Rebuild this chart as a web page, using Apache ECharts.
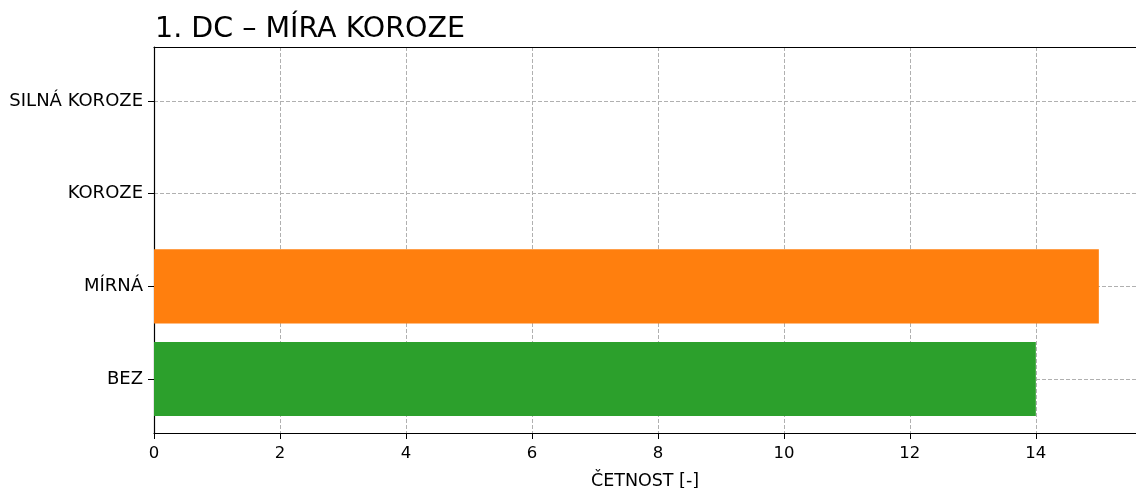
<!DOCTYPE html>
<html>
<head>
<meta charset="utf-8">
<script src="https://cdn.jsdelivr.net/npm/echarts@6/dist/echarts.min.js"></script>
<style>
  html, body { margin: 0; padding: 0; background: #fff; }
  #chart { width: 1136px; height: 488px; }
</style>
</head>
<body>
<div id="chart"></div>
<script>
// Corrosion levels, bottom to top, and how many samples fall into each
const categories = ['BEZ', 'MÍRNÁ', 'KOROZE', 'SILNÁ KOROZE'];
const counts = [14, 15, 0, 0];
const barColors = ['#2ca02c', '#ff7f0e', '#1f77b4', '#d62728'];
const titleText = '1. DC – MÍRA KOROZE';
const xAxisTitle = 'ČETNOST [-]';
const xMin = 0;
const xMax = 15.59;
const xStep = 2;

const FONT = 'DejaVu Sans';
const gridLine = { show: true, lineStyle: { color: '#b0b0b0', type: [4, 2], width: 1 } };
const spine = { show: true, lineStyle: { color: '#000', width: 1.2 } };
const tick = { show: true, length: 6, lineStyle: { color: '#000', width: 1 } };

const chart = echarts.init(document.getElementById('chart'), null, { renderer: 'canvas' });

chart.setOption({
  animation: false,
  backgroundColor: '#fff',
  title: {
    text: titleText,
    left: 150,
    top: 10,
    textStyle: { fontFamily: FONT, fontSize: 28.5, fontWeight: 'normal', color: '#000' }
  },
  grid: [
    // frame: spines, x ticks and vertical grid lines
    { left: 154, right: 0, top: 47, bottom: 55, containLabel: false, outerBoundsMode: 'none' },
    // category band: from the first to the last category centre
    { left: 154, right: 0, top: 101, bottom: 109, containLabel: false, outerBoundsMode: 'none' }
  ],
  xAxis: [
    {
      gridIndex: 0, type: 'value', min: xMin, max: xMax, interval: xStep,
      position: 'bottom',
      axisLine: spine,
      axisTick: tick,
      axisLabel: {
        margin: 12, fontFamily: FONT, fontSize: 16.5, color: '#000',
        formatter: v => (Math.abs(v % xStep) < 1e-9 ? String(v) : '')
      },
      splitLine: gridLine,
      name: xAxisTitle, nameLocation: 'middle', nameGap: 39,
      nameTextStyle: { fontFamily: FONT, fontSize: 17.5, color: '#000' }
    },
    {
      gridIndex: 1, type: 'value', min: xMin, max: xMax, interval: xStep, show: false
    },
    {
      gridIndex: 0, type: 'value', min: xMin, max: xMax, interval: xStep,
      position: 'top',
      axisLine: spine,
      axisTick: { show: false }, axisLabel: { show: false }, splitLine: { show: false }
    }
  ],
  yAxis: [
    {
      gridIndex: 0, type: 'value', min: 0, max: 1,
      axisLine: spine,
      axisTick: { show: false }, axisLabel: { show: false }, splitLine: { show: false }
    },
    {
      gridIndex: 1, type: 'category', data: categories, boundaryGap: false,
      axisLine: { show: false },
      axisTick: tick,
      axisLabel: { margin: 11, fontFamily: FONT, fontSize: 18, color: '#000' },
      splitLine: gridLine
    }
  ],
  series: [
    {
      type: 'bar',
      xAxisIndex: 1,
      yAxisIndex: 1,
      clip: false,
      barWidth: '80%',
      data: counts.map((v, i) => ({ value: v, itemStyle: { color: barColors[i] } }))
    }
  ]
});
</script>
</body>
</html>
